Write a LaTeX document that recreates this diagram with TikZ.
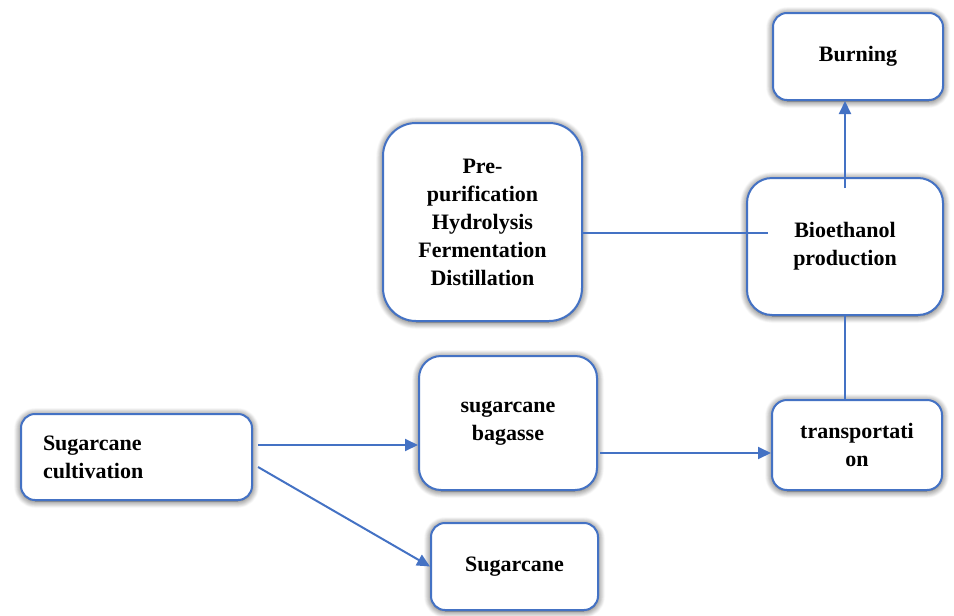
\documentclass[tikz,border=0pt]{standalone}
\usepackage{fontspec}
\setmainfont{Liberation Serif}
\usetikzlibrary{arrows.meta,shadows.blur}
\definecolor{obl}{HTML}{4472C4}
\tikzset{
  box/.style={draw=obl, line width=2pt, fill=white, align=center,
    font=\fontsize{22}{28}\selectfont\bfseries, inner sep=0pt,
    blur shadow={shadow xshift=0pt, shadow yshift=-1pt, shadow blur radius=7pt, shadow blur steps=10, shadow opacity=75}},
  conn/.style={draw=obl, line width=2pt},
  arr/.style={conn, -{Triangle[length=13pt,width=12pt]}},
}
\begin{document}
\begin{tikzpicture}[x=1pt,y=-1pt]
\useasboundingbox (0,0) rectangle (954,616);
\node[box, minimum width=170pt, minimum height=87pt, rounded corners=14pt] (burn) at (858,56.5) {Burning};
\node[box, minimum width=199pt, minimum height=198pt, rounded corners=33pt] (pre) at (482.5,222) {Pre-\\purification\\Hydrolysis\\Fermentation\\Distillation};
\node[box, minimum width=196pt, minimum height=137pt, rounded corners=25pt] (bio) at (845,246.5) {Bioethanol\\production};
\node[box, minimum width=170pt, minimum height=90pt, rounded corners=15pt] (trans) at (857,445) {transportati\\on};
\node[box, minimum height=86pt, rounded corners=14pt, align=left, text width=187pt, inner xsep=22pt] (cult) at (136.5,457) {Sugarcane\\cultivation};
\node[box, minimum width=178pt, minimum height=134pt, rounded corners=22pt] (bag) at (508,423) {sugarcane\\bagasse};
\node[box, minimum width=167pt, minimum height=87pt, rounded corners=14pt] (sug) at (514.5,566.5) {Sugarcane};
% connectors
\draw[arr] ([yshift=-11pt]bio.north) -- (burn.south -| bio.north);
\draw[conn] ([yshift=-11pt]pre.east) -- ([xshift=22pt,yshift=13.5pt]bio.west);
\draw[conn] (bio.south) -- (bio.south |- trans.north);
\coordinate (c1) at ([xshift=5pt,yshift=12pt]cult.east);
\draw[arr] (c1) -- (c1 -| bag.west);
\draw[arr] ([xshift=5pt,yshift=-10pt]cult.east) -- (sug.west);
\coordinate (b1) at ([xshift=2pt,yshift=-30pt]bag.east);
\draw[arr] (b1) -- (b1 -| trans.west);
\end{tikzpicture}
\end{document}
